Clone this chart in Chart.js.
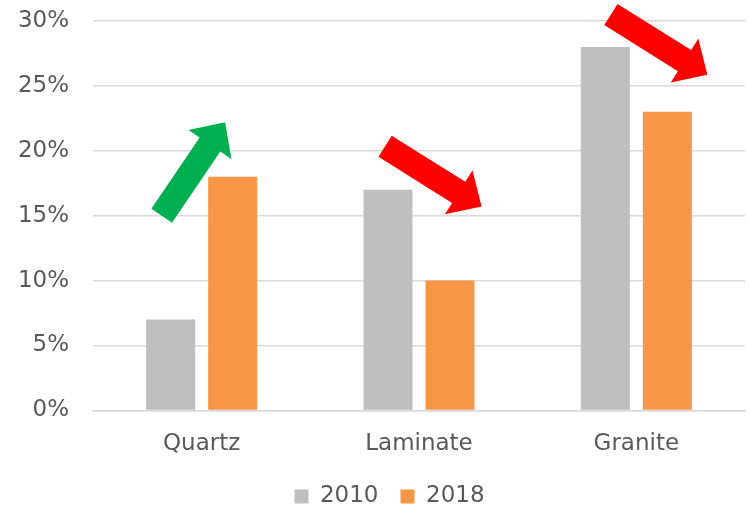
<!DOCTYPE html>
<html>
<head>
<meta charset="utf-8">
<script src="https://cdn.jsdelivr.net/npm/chart.js@4/dist/chart.umd.min.js"></script>
<style>
    html, body { margin: 0; padding: 0; background: #ffffff; }
    #wrap { width: 749px; height: 506px; position: relative; }
</style>
</head>
<body>
<div id="wrap"><canvas id="chart"></canvas></div>
<script>
// Chart data
var categories = ["Quartz", "Laminate", "Granite"];
var series_names = ["2010", "2018"];
var values_2010 = [7, 17, 28];
var values_2018 = [18, 10, 23];

// Trend arrows, in data units: [category position, percent]
var arrow_from = [[-0.184, 15.0], [0.844, 20.35], [1.883, 30.5]];
var arrow_to = [[0.108, 22.2], [1.288, 15.7], [2.327, 25.85]];
var arrow_colors = ["#00B050", "#FF0000", "#FF0000"];

var text_color = "#595959";
var font_family = "'DejaVu Sans', Verdana, sans-serif";

// Draws the block arrows on top of the bars
var arrow_plugin = {
    "id": "trend_arrows",
    "afterDraw": function (chart) {
        var ctx = chart.ctx;
        var x_scale = chart.scales.x;
        var y_scale = chart.scales.y;
        var shaft = 12.5;
        var head = 26;
        var head_len = 27;

        for (var i = 0; i < arrow_from.length; i++) {
            var x0 = x_scale.getPixelForValue(arrow_from[i][0]);
            var y0 = y_scale.getPixelForValue(arrow_from[i][1]);
            var x1 = x_scale.getPixelForValue(arrow_to[i][0]);
            var y1 = y_scale.getPixelForValue(arrow_to[i][1]);

            var len = Math.sqrt((x1 - x0) * (x1 - x0) + (y1 - y0) * (y1 - y0));
            var ux = (x1 - x0) / len;
            var uy = (y1 - y0) / len;
            var nx = -uy;
            var ny = ux;
            var bx = x1 - ux * head_len;
            var by = y1 - uy * head_len;

            ctx.save();
            ctx.fillStyle = arrow_colors[i];
            ctx.beginPath();
            ctx.moveTo(x0 + nx * shaft, y0 + ny * shaft);
            ctx.lineTo(bx + nx * shaft, by + ny * shaft);
            ctx.lineTo(bx + nx * head, by + ny * head);
            ctx.lineTo(x1, y1);
            ctx.lineTo(bx - nx * head, by - ny * head);
            ctx.lineTo(bx - nx * shaft, by - ny * shaft);
            ctx.lineTo(x0 - nx * shaft, y0 - ny * shaft);
            ctx.closePath();
            ctx.fill();
            ctx.restore();
        }
    }
};

// Legend padding is shared by the item gap and the vertical space,
// so draw the legend a bit off its box to keep both right
var legend_shift_plugin = {
    "id": "legend_shift",
    "afterInit": function (chart) {
        var legend = chart.legend;

        if (!legend || legend._shifted) {
            return;
        }

        var original_draw = legend.draw;
        var dx = 10;
        var dy = -15;

        legend.draw = function () {
            this.top += dy;
            this.bottom += dy;
            this.left += dx;
            this.right += dx;
            original_draw.apply(this, arguments);
            this.top -= dy;
            this.bottom -= dy;
            this.left -= dx;
            this.right -= dx;
        };

        legend._shifted = true;
    }
};

var config = {
    "type": "bar",
    "data": {
        "labels": categories,
        "datasets": [
            {
                "label": series_names[0],
                "data": values_2010,
                "backgroundColor": "#BFBFBF",
                "categoryPercentage": 0.571,
                "barPercentage": 0.79
            },
            {
                "label": series_names[1],
                "data": values_2018,
                "backgroundColor": "#F79646",
                "categoryPercentage": 0.571,
                "barPercentage": 0.79
            }
        ]
    },
    "options": {
        "responsive": true,
        "maintainAspectRatio": false,
        "animation": false,
        "layout": {
            "padding": {"top": 21, "right": 4, "left": 14, "bottom": -27}
        },
        "scales": {
            "y": {
                "min": 0,
                "max": 30,
                "border": {"display": false},
                "grid": {
                    "color": "#D9D9D9",
                    "lineWidth": 1.5,
                    "drawTicks": true,
                    "tickLength": 20,
                    "tickColor": "rgba(0,0,0,0)"
                },
                "ticks": {
                    "stepSize": 5,
                    "color": text_color,
                    "padding": 4,
                    "font": {"family": font_family, "size": 23},
                    "callback": function (value) {
                        return value + "%";
                    }
                },
                "afterFit": function (scale) {
                    scale.width = 79;
                }
            },
            "x": {
                "border": {"color": "#D9D9D9", "width": 1.5},
                "grid": {"display": false, "drawTicks": false},
                "ticks": {
                    "color": text_color,
                    "padding": 20,
                    "font": {"family": font_family, "size": 23}
                }
            }
        },
        "plugins": {
            "legend": {
                "position": "bottom",
                "labels": {
                    "color": text_color,
                    "boxWidth": 14,
                    "boxHeight": 14,
                    "padding": 22,
                    "font": {"family": font_family, "size": 23}
                }
            },
            "tooltip": {"enabled": false},
            "title": {"display": false}
        }
    },
    "plugins": [arrow_plugin, legend_shift_plugin]
};

new Chart(document.getElementById("chart").getContext("2d"), config);
</script>
</body>
</html>
